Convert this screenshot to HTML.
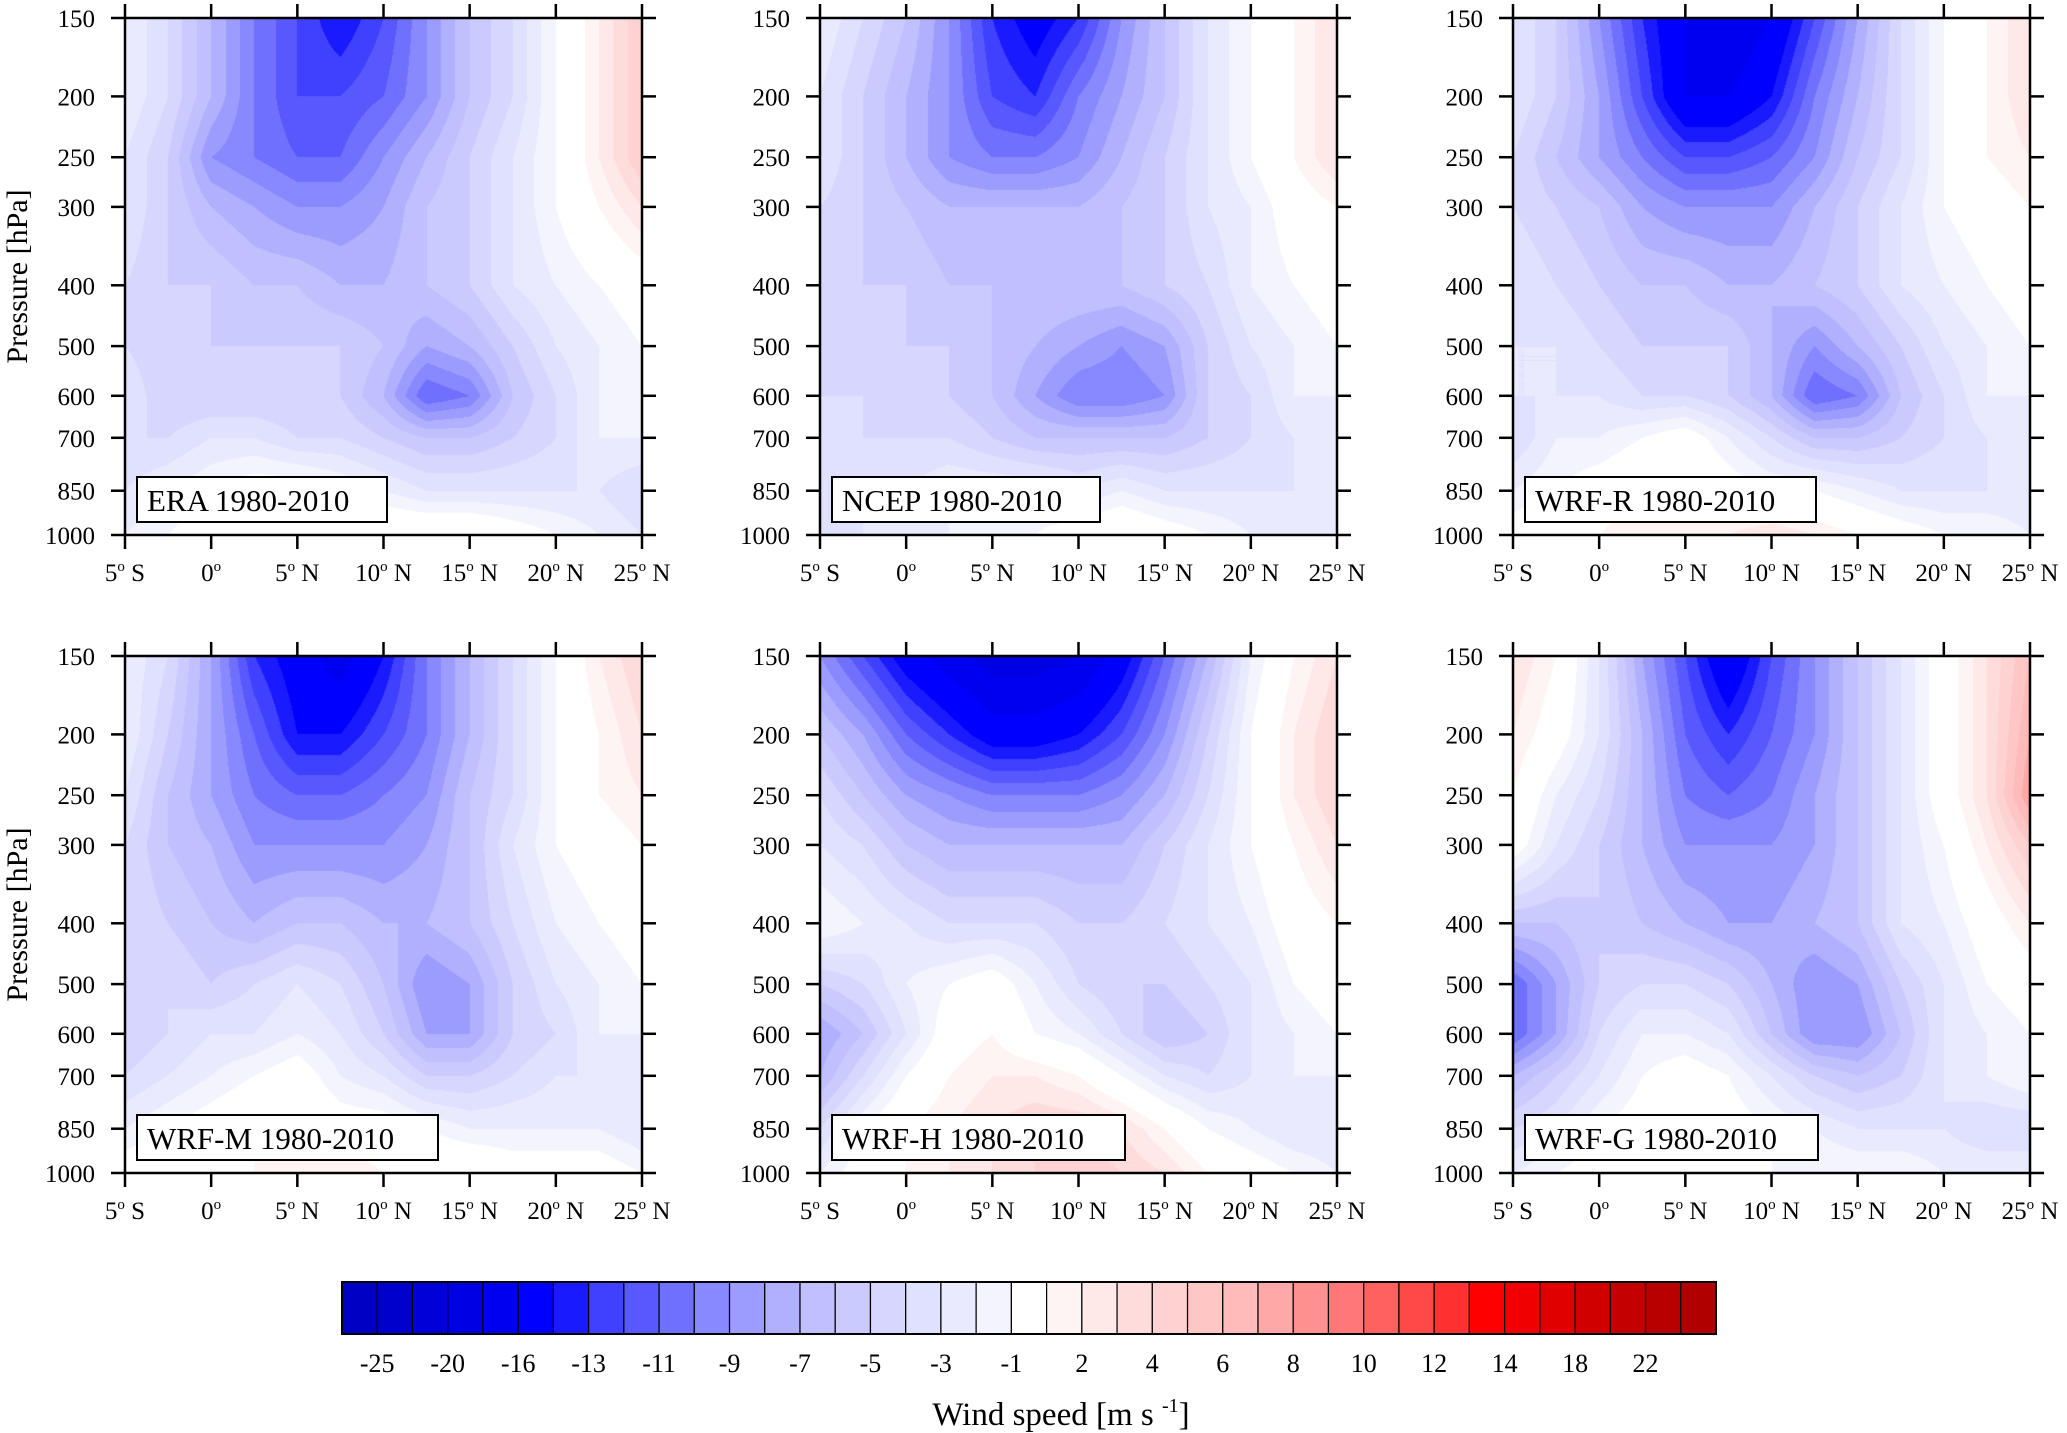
<!DOCTYPE html>
<html><head><meta charset="utf-8"><style>
html,body{margin:0;padding:0;background:#fff;}
#root{position:relative;width:2067px;height:1433px;overflow:hidden;font-family:"Liberation Serif",serif;}
canvas{position:absolute;}
svg{position:absolute;left:0;top:0;}
</style></head><body>
<div id="root"></div>
<script>
const lats=[-5,-2.5,0,2.5,5,7.5,10,12.5,15,17.5,20,22.5,25];
const pressures=[150,200,250,300,400,500,600,700,850,1000];
const xTickLabels=["5","0","5","10","15","20","25"];
const xTickHemi=[" S",""," N"," N"," N"," N"," N"];
const levels=[-25,-22,-20,-18,-16,-14,-13,-12,-11,-10,-9,-8,-7,-6,-5,-4,-3,-2,-1,1,2,3,4,5,6,7,8,9,10,11,12,13,14,16,18,20,22,26];
const cbarLabels=["-25","-20","-16","-13","-11","-9","-7","-5","-3","-1","2","4","6","8","10","12","14","18","22"];
const colors=["#0000c4","#0000cc","#0000d8","#0000e4","#0000f0","#0000ff","#1a1aff","#4040ff","#5858ff","#7070ff","#8888ff","#9c9cff","#b0b0ff","#c0c0ff","#cacaff","#d6d6ff","#e0e0ff","#eaeaff","#f4f4ff","#ffffff","#fff4f4","#ffe8e8","#ffdcdc","#ffd2d2","#ffc6c6","#ffbaba","#ffa8a8","#ff9090","#ff7878","#ff6060","#ff4848","#ff3030","#ff0000","#f00000","#e00000","#d00000","#c40000","#b80000","#b00000"];
const panelTitles=["ERA 1980-2010","NCEP 1980-2010","WRF-R 1980-2010","WRF-M 1980-2010","WRF-H 1980-2010","WRF-G 1980-2010"];
const era=[
[-2,-4,-7,-10,-12,-14,-12,-9,-6,-4,-1,2,5],
[-2,-4,-7,-10,-12,-12,-11,-9,-6,-4,-1,2,5],
[-3,-5,-9,-10,-11,-11,-9,-7,-5,-3,-1,2,5],
[-3,-5,-7,-8,-9,-9,-8,-6,-5,-3,-1,1,3],
[-4,-5,-5,-6,-6,-7,-7,-6,-5,-3,-2,-1,0],
[-4,-5,-5,-5,-5,-5,-6,-8,-7,-5,-3,-2,-1],
[-3,-5,-5,-5,-5,-5,-7,-11,-10,-6,-4,-2,-2],
[-4,-4,-3,-3,-4,-4,-5,-6,-6,-5,-4,-2,-2],
[-3,-2,-1,0,0,-1,-2,-3,-3,-3,-3,-3,-4],
[-2,-1,0,0,1,1,1,1,1,0,-1,-2,-3]];
const ncep=[
[-2,-4,-6,-9,-13,-15,-13,-9,-6,-3,-1,1,3],
[-3,-5,-7,-9,-12,-13,-10,-8,-6,-3,-1,1,3],
[-3,-5,-7,-9,-10,-10,-9,-7,-5,-3,-1,1,3],
[-4,-5,-6,-7,-7,-7,-7,-6,-5,-3,-2,0,1],
[-4,-5,-5,-6,-6,-6,-6,-6,-5,-4,-2,-1,0],
[-4,-5,-5,-5,-6,-7,-8,-9,-8,-5,-3,-2,-1],
[-4,-4,-5,-5,-6,-8,-10,-10,-9,-5,-4,-2,-2],
[-4,-4,-4,-4,-5,-6,-6,-6,-6,-5,-4,-3,-2],
[-4,-3,-3,-2,-2,-2,-3,-2,-3,-3,-3,-3,-3],
[-3,-3,-2,-2,-1,-1,0,1,0,-1,-2,-2,-2]];
const wrfR=[
[-3,-5,-9,-13,-16,-18,-16,-12,-8,-4,-1,1,3],
[-3,-5,-8,-12,-16,-16,-14,-10,-7,-4,-1,1,3],
[-4,-6,-8,-10,-12,-12,-11,-9,-6,-4,-1,1,2],
[-4,-5,-6,-8,-9,-9,-9,-7,-5,-3,-1,0,1],
[-3,-4,-5,-6,-6,-7,-7,-6,-5,-3,-2,-1,0],
[-3,-3,-4,-5,-5,-5,-7,-9,-7,-5,-3,-2,-1],
[-3,-3,-3,-4,-4,-5,-7,-11,-10,-6,-4,-2,-2],
[-4,-2,-2,-1,0,-2,-4,-6,-6,-5,-4,-3,-2],
[-2,-1,0,1,1,0,-1,-1,-2,-3,-3,-3,-3],
[0,1,1,2,2,2,3,2,1,0,-1,-1,-2]];
const wrfM=[
[-2,-4,-8,-13,-15,-17,-14,-10,-7,-4,-1,2,4],
[-2,-5,-8,-11,-14,-14,-12,-10,-7,-4,-1,1,3],
[-3,-6,-8,-10,-11,-11,-10,-9,-6,-4,-1,1,2],
[-4,-6,-7,-9,-9,-9,-9,-8,-6,-3,-1,0,1],
[-4,-5,-6,-7,-6,-6,-7,-7,-6,-4,-2,-1,0],
[-4,-4,-5,-4,-3,-4,-6,-9,-8,-5,-3,-2,-1],
[-5,-4,-3,-3,-2,-3,-5,-8,-8,-5,-4,-2,-2],
[-4,-3,-2,-1,0,-2,-3,-5,-5,-4,-3,-3,-2],
[-2,-1,0,1,1,0,0,-1,-2,-2,-2,-2,-3],
[0,1,1,1,2,2,1,1,1,0,0,0,-1]];
const wrfH=[
[-9,-12,-15,-17,-19,-19,-18,-15,-11,-7,-2,1,3],
[-6,-8,-11,-13,-15,-15,-14,-12,-9,-5,-1,2,4],
[-4,-6,-8,-9,-10,-10,-10,-9,-7,-4,-1,2,4],
[-3,-4,-6,-7,-7,-7,-7,-7,-5,-3,-1,1,3],
[-1,-2,-3,-4,-4,-4,-5,-5,-4,-3,-2,0,1],
[-5,-4,-2,-1,0,-2,-4,-5,-5,-4,-3,-1,0],
[-8,-6,-3,0,1,-1,-2,-4,-6,-5,-3,-2,-1],
[-7,-4,-1,1,2,2,1,-1,-3,-4,-3,-2,-2],
[-4,-1,1,2,3,4,4,3,1,-1,-2,-3,-3],
[-2,0,1,2,3,4,5,4,3,1,0,-1,-2]];
const wrfG=[
[3,1,-3,-8,-12,-16,-12,-9,-6,-3,0,3,6],
[2,0,-3,-7,-11,-13,-11,-9,-6,-3,0,3,7],
[1,-2,-4,-7,-10,-11,-10,-8,-6,-3,0,3,8],
[0,-3,-5,-7,-9,-9,-9,-8,-6,-3,-1,2,5],
[-6,-6,-5,-6,-7,-8,-8,-7,-6,-3,-2,0,2],
[-11,-8,-5,-4,-4,-5,-7,-9,-8,-5,-3,-1,0],
[-11,-8,-4,-2,-2,-3,-6,-9,-9,-6,-3,-2,-1],
[-7,-5,-3,-1,0,-1,-3,-5,-6,-5,-3,-2,-1],
[-4,-3,-1,0,1,0,-1,-2,-3,-3,-3,-4,-4],
[-2,-1,0,0,0,0,-1,-1,-1,-1,-2,-2,-2]];
const fields=[era,ncep,wrfR,wrfM,wrfH,wrfG];

const root=document.getElementById('root');
const NS="http://www.w3.org/2000/svg";
const colX=[125,820,1513], rowY=[18,656], PW=517, PH=517;
const boxW=[250,268,291,301,293,293];
const svg=document.createElementNS(NS,'svg');
svg.setAttribute('width','2067');svg.setAttribute('height','1433');


function mk(tag,attrs,parent){const e=document.createElementNS(NS,tag);for(const k in attrs)e.setAttribute(k,attrs[k]);(parent||svg).appendChild(e);return e;}
const lpMin=Math.log(150),lpMax=Math.log(1000);
function yScale(p){return (Math.log(p)-lpMin)/(lpMax-lpMin)*PH;}
function xScale(l){return (l+5)/30*PW;}
function hexRGB(h){return [parseInt(h.substr(1,2),16),parseInt(h.substr(3,2),16),parseInt(h.substr(5,2),16)];}
const rgb=colors.map(hexRGB);
function colorIdx(v){let i=0;while(i<levels.length&&v>=levels[i])i++;return i;}
function sample(f,l,p){
  let fx=(l+5)/2.5; fx=Math.max(0,Math.min(lats.length-1.0001,fx));
  const lp=Math.log(p); let j=0;
  while(j<pressures.length-2&&lp>Math.log(pressures[j+1]))j++;
  let ty=(lp-Math.log(pressures[j]))/(Math.log(pressures[j+1])-Math.log(pressures[j]));
  ty=Math.max(0,Math.min(1,ty));
  const i=Math.floor(fx),tx=fx-i;
  const a=f[j][i]*(1-tx)+f[j][i+1]*tx, b=f[j+1][i]*(1-tx)+f[j+1][i+1]*tx;
  return a*(1-ty)+b*ty;
}
for(let k=0;k<6;k++){
  const ox=colX[k%3], oy=rowY[Math.floor(k/3)];
  const cv=document.createElement('canvas');
  cv.width=PW;cv.height=PH;cv.style.left=ox+'px';cv.style.top=oy+'px';
  
  
  root.appendChild(cv);
  const ctx=cv.getContext('2d');const img=ctx.createImageData(PW,PH);
  for(let y=0;y<PH;y++){
    const p=Math.exp(lpMin+(y+0.5)/PH*(lpMax-lpMin));
    for(let x=0;x<PW;x++){
      const l=-5+(x+0.5)/PW*30;
      const c=rgb[colorIdx(sample(fields[k],l,p))];
      const o=(y*PW+x)*4;img.data[o]=c[0];img.data[o+1]=c[1];img.data[o+2]=c[2];img.data[o+3]=255;
    }
  }
  ctx.putImageData(img,0,0);
  const g=mk('g',{transform:`translate(${ox},${oy})`});
  
  
  mk('rect',{x:0,y:0,width:PW,height:PH,fill:'none',stroke:'#000','stroke-width':2.5},g);
  pressures.forEach(p=>{
    const y=yScale(p);
    mk('line',{x1:-14,x2:0,y1:y,y2:y,stroke:'#000','stroke-width':2.5},g);
    mk('line',{x1:PW,x2:PW+14,y1:y,y2:y,stroke:'#000','stroke-width':2.5},g);
    const t=mk('text',{x:-30,y:y+9,'text-anchor':'end','font-size':25,fill:'#000'},g);
    t.textContent=p;
    
    
  });
  xTickLabels.forEach((s,i)=>{
    const x=xScale(-5+i*5);
    mk('line',{x1:x,x2:x,y1:PH,y2:PH+14,stroke:'#000','stroke-width':2.5},g);
    mk('line',{x1:x,x2:x,y1:-14,y2:0,stroke:'#000','stroke-width':2.5},g);
    const t=mk('text',{x:x,y:PH+46,'text-anchor':'middle','font-size':25,fill:'#000'},g);
    
    
    t.appendChild(document.createTextNode(s));
    const sp=mk('tspan',{'font-size':15,dy:-10},t);sp.textContent='o';
    const sp2=mk('tspan',{dy:10},t);sp2.textContent=xTickHemi[i];
  });
  const bw=boxW[k];
  const bx=12, by=459;
  const box=mk('rect',{x:bx,y:by,width:bw,height:45,fill:'#fff',stroke:'#000','stroke-width':2},g);
  
  
  const tt=mk('text',{x:bx+10,y:by+34,'font-size':31,fill:'#000'},g);
  tt.textContent=panelTitles[k];
  
  
}
[0,1].forEach(r=>{
  const cy=rowY[r]+PH/2;
  const t=mk('text',{x:0,y:0,transform:`translate(27,${cy}) rotate(-90)`,'text-anchor':'middle','font-size':30,fill:'#000'});
  t.textContent='Pressure [hPa]';
  
  
});
const cbx=342,cbw=1374,cby=1282,cbh=52,nb=colors.length,bwid=cbw/nb;
const cb=mk('g',{});


colors.forEach((c,i)=>{mk('rect',{x:cbx+i*bwid,y:cby,width:bwid,height:cbh,fill:c,stroke:'#000','stroke-width':1.2},cb);});
mk('rect',{x:cbx,y:cby,width:cbw,height:cbh,fill:'none',stroke:'#000','stroke-width':2},cb);
cbarLabels.forEach((s,i)=>{
  const t=mk('text',{x:cbx+(1+2*i)*bwid,y:1372,'text-anchor':'middle','font-size':26,fill:'#000'},cb);
  t.textContent=s;
  
  
});
const ct=mk('text',{x:1061,y:1425,'text-anchor':'middle','font-size':33,fill:'#000'});


ct.appendChild(document.createTextNode('Wind speed [m s '));
const sup=mk('tspan',{'font-size':20,dy:-13},ct);sup.textContent='-1';
const cl=mk('tspan',{dy:13},ct);cl.textContent=']';
root.appendChild(svg);
</script>
</body></html>
